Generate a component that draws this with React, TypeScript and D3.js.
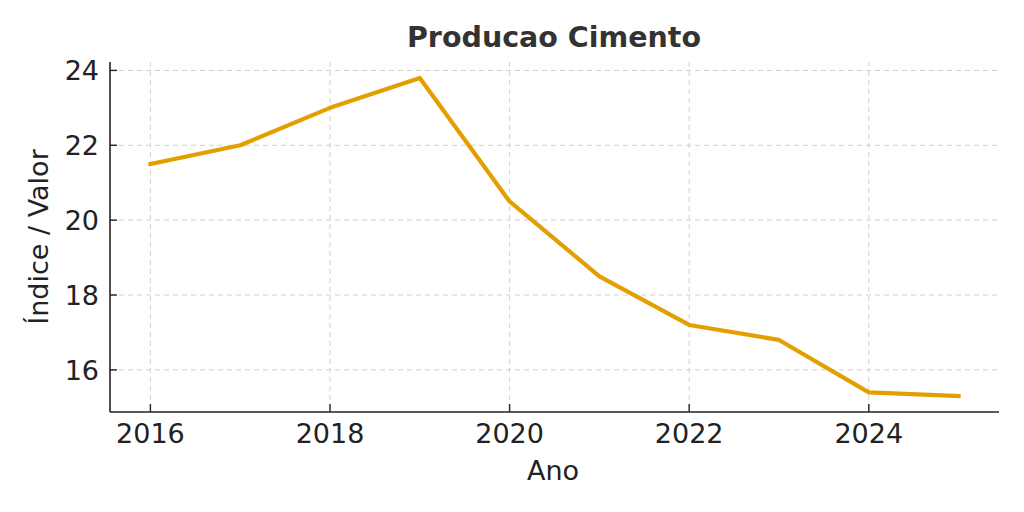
import React from "react";
import * as d3 from "d3";

const years = [2016, 2017, 2018, 2019, 2020, 2021, 2022, 2023, 2024, 2025];
const values = [21.5, 22.0, 23.0, 23.8, 20.5, 18.5, 17.2, 16.8, 15.4, 15.3];
const xTicks = [2016, 2018, 2020, 2022, 2024];
const yTicks = [16, 18, 20, 22, 24];
const title = "Producao Cimento";
const xLabel = "Ano";
const yLabel = "Índice / Valor";

export default function App() {
  const W = 1024, H = 512;
  const left = 110, right = 999, top = 62, bottom = 412;
  const xMin = d3.min(years)!, xMax = d3.max(years)!;
  const yMin = d3.min(values)!, yMax = d3.max(values)!;
  const xPad = (xMax - xMin) * 0.05, yPad = (yMax - yMin) * 0.05;
  const x = d3.scaleLinear().domain([xMin - xPad, xMax + xPad]).range([left, right]);
  const y = d3.scaleLinear().domain([yMin - yPad, yMax + yPad]).range([bottom, top]);
  const line = d3.line<number>().x((_, i) => x(years[i])).y((v) => y(v));
  const font = "DejaVu Sans, sans-serif";
  return (
    <svg width={W} height={H} style={{ position: "absolute", left: 0, top: 0, background: "#fff" }} fontFamily={font}>
      <rect width={W} height={H} fill="#fff" />
      {xTicks.map((t) => (
        <line key={"gx" + t} x1={x(t)} x2={x(t)} y1={top} y2={bottom} stroke="#d0d0d0" strokeDasharray="5,4" strokeWidth={1} />
      ))}
      {yTicks.map((t) => (
        <line key={"gy" + t} x1={left} x2={right} y1={y(t)} y2={y(t)} stroke="#d0d0d0" strokeDasharray="5,4" strokeWidth={1} />
      ))}
      <path d={line(values)!} fill="none" stroke="#E39F00" strokeWidth={4.2} strokeLinejoin="round" strokeLinecap="square" />
      <line x1={left} x2={left} y1={top} y2={bottom} stroke="#222" strokeWidth={1.6} />
      <line x1={left} x2={right} y1={bottom} y2={bottom} stroke="#222" strokeWidth={1.6} />
      {xTicks.map((t) => (
        <g key={"tx" + t}>
          <line x1={x(t)} x2={x(t)} y1={bottom} y2={bottom - 8} stroke="#222" strokeWidth={1.4} />
          <text x={x(t)} y={443} textAnchor="middle" fontSize={27} fill="#222">{t}</text>
        </g>
      ))}
      {yTicks.map((t) => (
        <g key={"ty" + t}>
          <line x1={left} x2={left + 7} y1={y(t)} y2={y(t)} stroke="#222" strokeWidth={1.4} />
          <text x={99} y={y(t) + 10} textAnchor="end" fontSize={27} fill="#222">{t}</text>
        </g>
      ))}
      <text x={553} y={480} textAnchor="middle" fontSize={27} fill="#222">{xLabel}</text>
      <text transform={`translate(48, ${(top + bottom) / 2}) rotate(-90)`} textAnchor="middle" fontSize={27} fill="#222">{yLabel}</text>
      <text x={554} y={47} textAnchor="middle" fontSize={28.5} fontWeight="bold" fill="#333">{title}</text>
    </svg>
  );
}
